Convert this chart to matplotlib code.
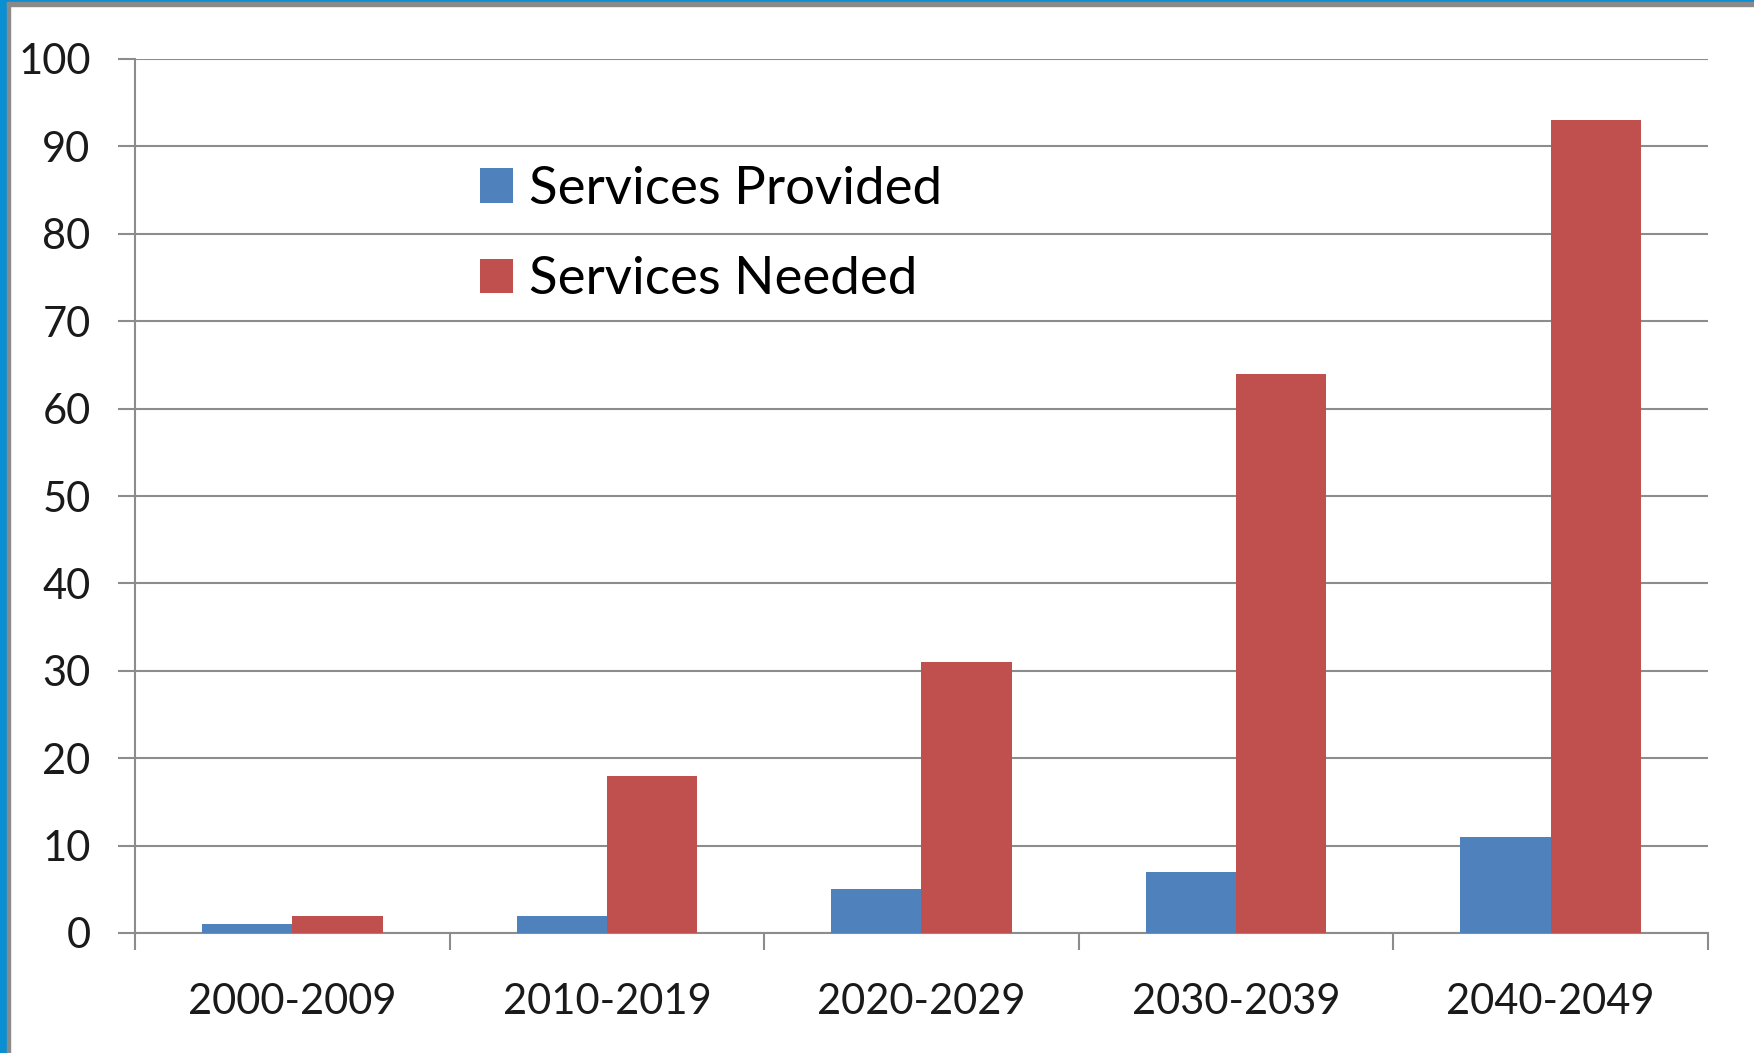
import numpy as np
import matplotlib.pyplot as plt
from matplotlib.patches import Rectangle

decades = ['2000-2009', '2010-2019', '2020-2029', '2030-2039', '2040-2049']
provided = [1, 2, 5, 7, 11]
needed = [2, 18, 31, 64, 93]
yticks = [0, 10, 20, 30, 40, 50, 60, 70, 80, 90, 100]

blue = '#4f81bd'
red = '#c0504d'
grid_grey = '#8c8c8c'

plt.rcParams['font.family'] = ['Lato', 'DejaVu Sans']

fig = plt.figure(figsize=(17.54, 10.53), dpi=100)
ax = fig.add_axes([135 / 1754, 1 - 933 / 1053, (1708 - 135) / 1754, (933 - 59) / 1053])

x = np.arange(len(decades))
w = 0.287
ax.bar(x - w / 2, provided, w, color=blue, label='Services Provided', zorder=3)
ax.bar(x + w / 2, needed, w, color=red, label='Services Needed', zorder=3)

ax.set_xlim(-0.5, len(decades) - 0.5)
ax.set_ylim(0, 100)
ax.set_yticks(yticks)
ax.set_yticklabels([str(v) for v in yticks], fontsize=30, color='#1a1a1a')
ax.set_xticks(x)
ax.set_xticklabels(decades, fontsize=30, color='#1a1a1a')
ax.set_xticks(np.arange(-0.5, len(decades)), minor=True)

# gridlines pulled out past the axis like the value ticks
ax.yaxis.grid(True, color=grid_grey, linewidth=1.5, zorder=0)
ax.tick_params(axis='y', length=12, width=1.5, color=grid_grey, pad=20)
ax.tick_params(axis='x', which='major', length=0, pad=36)
ax.tick_params(axis='x', which='minor', length=12, width=1.5, color=grid_grey)

for side in ['top', 'right']:
    ax.spines[side].set_visible(False)
for side in ['left', 'bottom']:
    ax.spines[side].set_color(grid_grey)
    ax.spines[side].set_linewidth(1.5)

ax.legend(loc='upper left', bbox_to_anchor=(480 / 1754, 1 - 166 / 1053),
          bbox_transform=fig.transFigure, frameon=False, fontsize=38,
          handlelength=0.62, handleheight=0.62, handletextpad=0.3,
          labelspacing=0.82, borderaxespad=0, borderpad=0)

# window frame along the left and top edges
fig.patches.append(Rectangle((0, 0), 7 / 1754, 1, transform=fig.transFigure,
                             color='#0a8fd2', zorder=10))
fig.patches.append(Rectangle((7 / 1754, 0), 3 / 1754, 1 - 2 / 1053, transform=fig.transFigure,
                             color='#8a8a8a', zorder=10))
fig.patches.append(Rectangle((0, 1 - 2 / 1053), 1, 2 / 1053, transform=fig.transFigure,
                             color='#0a8fd2', zorder=10))
fig.patches.append(Rectangle((7 / 1754, 1 - 6 / 1053), 1, 4 / 1053, transform=fig.transFigure,
                             color='#8a8a8a', zorder=10))

fig.savefig('out.png', dpi=100)
